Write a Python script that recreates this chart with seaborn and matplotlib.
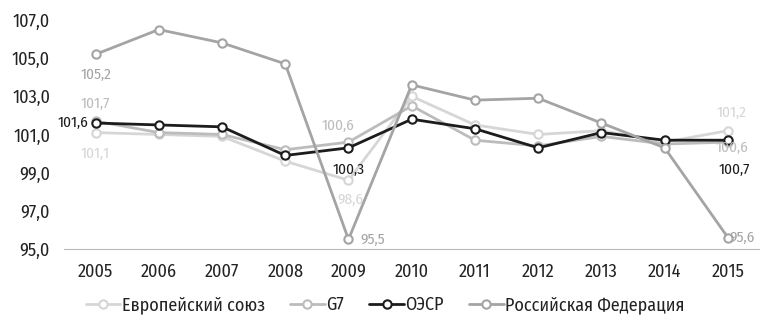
import matplotlib
matplotlib.use("Agg")
import matplotlib.pyplot as plt
from matplotlib.ticker import FixedLocator, FuncFormatter
import seaborn as sns
import pandas as pd

years = [str(y) for y in range(2005, 2016)]
eu = [101.1, 101.0, 100.9, 99.6, 98.6, 103.0, 101.5, 101.0, 101.2, 100.6, 101.2]
g7 = [101.7, 101.1, 101.0, 100.2, 100.6, 102.5, 100.7, 100.4, 100.9, 100.5, 100.6]
oecd = [101.6, 101.5, 101.4, 99.9, 100.3, 101.8, 101.3, 100.3, 101.1, 100.7, 100.7]
russia = [105.2, 106.5, 105.8, 104.7, 95.5, 103.6, 102.8, 102.9, 101.6, 100.3, 95.6]

series_names = ["Европейский союз", "G7", "ОЭСР", "Российская Федерация"]
colors = ["#d6d6d6", "#bcbcbc", "#1c1c1c", "#a4a4a4"]

# (series index, year index, dx px, dy px, ha)
labels = [
    (0, 0, 0, -21, "center"),
    (1, 0, 0, 17, "center"),
    (2, 0, -7, 0, "right"),
    (3, 0, 0, -20, "center"),
    (1, 4, -10, 16, "center"),
    (2, 4, 0, -22, "center"),
    (0, 4, 2, -20, "center"),
    (3, 4, 12, 0, "left"),
    (0, 10, 4, 18, "center"),
    (1, 10, 4, -6, "center"),
    (2, 10, 6, -30, "center"),
    (3, 10, 2, 0, "left"),
]

df = pd.DataFrame({"year": years * 4,
                   "value": eu + g7 + oecd + russia,
                   "series": [n for n in series_names for _ in years]})

sns.set_style("white")
plt.rcParams["font.family"] = ["Fira Sans Condensed", "DejaVu Sans"]
plt.rcParams["font.weight"] = "normal"

fig = plt.figure(figsize=(7.66, 3.2), dpi=100)
ax = fig.add_axes([0.0835, 0.222, 0.908, 0.7155])

for name, col in zip(series_names, colors):
    sub = df[df["series"] == name]
    sns.lineplot(data=sub, x="year", y="value", ax=ax, color=col, lw=2.0,
                 marker="o", markersize=6, markerfacecolor="white",
                 markeredgecolor=col, markeredgewidth=1.5, label=name, sort=False)

data = [eu, g7, oecd, russia]
for si, yi, dx, dy, ha in labels:
    v = data[si][yi]
    ax.annotate(f"{v:.1f}".replace(".", ","), (yi, v), xytext=(dx, dy),
                textcoords="offset pixels", ha=ha, va="center",
                fontsize=11, color=colors[si])

ax.set_ylim(95, 107)
ax.set_xlim(-0.5, 10.5)
ax.yaxis.set_major_locator(FixedLocator([95, 97, 99, 101, 103, 105, 107]))
ax.yaxis.set_major_formatter(FuncFormatter(lambda v, p: f"{v:.1f}".replace(".", ",")))
ax.set_xlabel("")
ax.set_ylabel("")
ax.set_xticks(range(11))
ax.set_xticks([i - 0.5 for i in range(12)], minor=True)
ax.tick_params(axis="x", which="major", length=0, pad=10, labelsize=13, labelcolor="#222222")
ax.tick_params(axis="x", which="minor", length=4, color="#bbbbbb", direction="inout")
ax.tick_params(axis="y", length=0, labelsize=13, pad=10, labelcolor="#222222")
for s in ["top", "right", "left"]:
    ax.spines[s].set_visible(False)
ax.spines["bottom"].set_color("#bbbbbb")

ax.legend(loc="center", bbox_to_anchor=(0.462, -0.245), ncol=4, frameon=False,
          fontsize=13, handlelength=1.9, columnspacing=1.4, handletextpad=0.1,
          labelcolor="#222222")

fig.savefig("out.png", dpi=100)
